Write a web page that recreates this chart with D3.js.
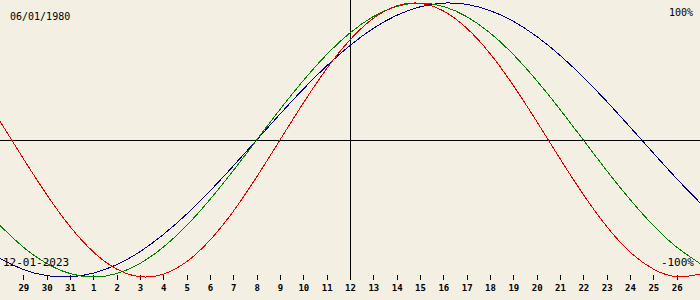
<!DOCTYPE html>
<html>
<head>
<meta charset="utf-8">
<script src="https://cdn.jsdelivr.net/npm/d3@7"></script>
<style>
  html, body { margin: 0; padding: 0; background: #f3efe3; }
  svg { display: block; }
  text { font-family: "DejaVu Sans Mono", monospace; fill: #000; }
</style>
</head>
<body>
<div id="chart"></div>
<script>
// day offsets from the centre date (12-01-2023), left edge to right edge
var dayOffsets = [-15, -14, -13, -12, -11, -10, -9, -8, -7, -6, -5, -4, -3, -2, -1, 0,
                  1, 2, 3, 4, 5, 6, 7, 8, 9, 10, 11, 12, 13, 14, 15];
// tick labels, one per day from -14 to 14
var tickLabels = ["29", "30", "31", "1", "2", "3", "4", "5", "6", "7", "8", "9", "10", "11",
                  "12", "13", "14", "15", "16", "17", "18", "19", "20", "21", "22", "23", "24", "25", "26"];
var tickOffsets = [-14, -13, -12, -11, -10, -9, -8, -7, -6, -5, -4, -3, -2, -1, 0,
                   1, 2, 3, 4, 5, 6, 7, 8, 9, 10, 11, 12, 13, 14];

// series values per day (-1 .. 1)
var physical = [0.136, -0.136, -0.398, -0.631, -0.817, -0.942, -0.998, -0.979, -0.888, -0.731, -0.520, -0.270,
                0, 0.270, 0.520, 0.731, 0.888, 0.979, 0.998, 0.942, 0.817, 0.631, 0.398, 0.136,
                -0.136, -0.398, -0.631, -0.817, -0.942, -0.998, -0.979];
var emotional = [-0.624, -0.782, -0.901, -0.975, -1, -0.975, -0.901, -0.782, -0.624, -0.434, -0.223,
                 0, 0.223, 0.434, 0.624, 0.782, 0.901, 0.975, 1, 0.975, 0.901, 0.782, 0.624, 0.434, 0.223,
                 0, -0.223, -0.434, -0.624, -0.782, -0.901];
var intellectual = [-0.866, -0.945, -0.990, -0.999, -0.972, -0.910, -0.815, -0.690, -0.541, -0.372, -0.189,
                    0, 0.189, 0.372, 0.541, 0.690, 0.815, 0.910, 0.972, 0.999, 0.990, 0.945, 0.866, 0.756,
                    0.618, 0.458, 0.282, 0.095, -0.095, -0.282, -0.458];

var seriesNames = ["intellectual", "emotional", "physical"];
var seriesColours = ["#000080", "#008000", "#e00000"];

var birthLabel = "06/01/1980";
var dateLabel = "12-01-2023";
var topLabel = "100%";
var bottomLabel = "-100%";

var width = 700,
    height = 300;

var svg = d3.select("#chart").append("svg")
    .attr("width", width)
    .attr("height", height);

svg.append("rect")
    .attr("width", width)
    .attr("height", height)
    .attr("fill", "#f3efe3");

var x = d3.scaleLinear().domain([-15, 15]).range([0, width]);
var y = d3.scaleLinear().domain([-1, 1]).range([277, 3]);

// axes lines
svg.append("line")
    .attr("x1", 0).attr("x2", width)
    .attr("y1", Math.round(y(0)) + 0.5).attr("y2", Math.round(y(0)) + 0.5)
    .attr("stroke", "#000")
    .attr("shape-rendering", "crispEdges");
svg.append("line")
    .attr("x1", Math.round(x(0)) + 0.5).attr("x2", Math.round(x(0)) + 0.5)
    .attr("y1", 0).attr("y2", 280)
    .attr("stroke", "#000")
    .attr("shape-rendering", "crispEdges");

// day ticks
svg.append("g").selectAll("line")
    .data(tickOffsets)
    .enter().append("line")
    .attr("x1", function(d) { return Math.round(x(d)) + 0.5; })
    .attr("x2", function(d) { return Math.round(x(d)) + 0.5; })
    .attr("y1", 275)
    .attr("y2", 280)
    .attr("stroke", "#000")
    .attr("shape-rendering", "crispEdges");

svg.append("g").selectAll("text")
    .data(tickOffsets)
    .enter().append("text")
    .attr("x", function(d) { return x(d) + 0.5; })
    .attr("y", 291)
    .attr("text-anchor", "middle")
    .style("font-size", "9px")
    .style("font-weight", "bold")
    .text(function(d, i) { return tickLabels[i]; });

// curves
var line = d3.line()
    .x(function(d) { return x(d.day); })
    .y(function(d) { return y(d.value); })
    .curve(d3.curveNatural);

var allSeries = [intellectual, emotional, physical];
svg.append("g").selectAll("path")
    .data(allSeries)
    .enter().append("path")
    .attr("d", function(values) {
        return line(values.map(function(v, i) { return { day: dayOffsets[i], value: v }; }));
    })
    .attr("fill", "none")
    .attr("stroke", function(d, i) { return seriesColours[i]; })
    .attr("stroke-width", 1)
    .attr("shape-rendering", "crispEdges");

// labels
svg.append("text")
    .attr("x", 10).attr("y", 20)
    .style("font-size", "10px")
    .text(birthLabel);
svg.append("text")
    .attr("x", 693).attr("y", 16)
    .attr("text-anchor", "end")
    .style("font-size", "10px")
    .text(topLabel);
svg.append("text")
    .attr("x", 3).attr("y", 266)
    .style("font-size", "11px")
    .text(dateLabel);
svg.append("text")
    .attr("x", 694).attr("y", 266)
    .attr("text-anchor", "end")
    .style("font-size", "11px")
    .text(bottomLabel);
</script>
</body>
</html>
